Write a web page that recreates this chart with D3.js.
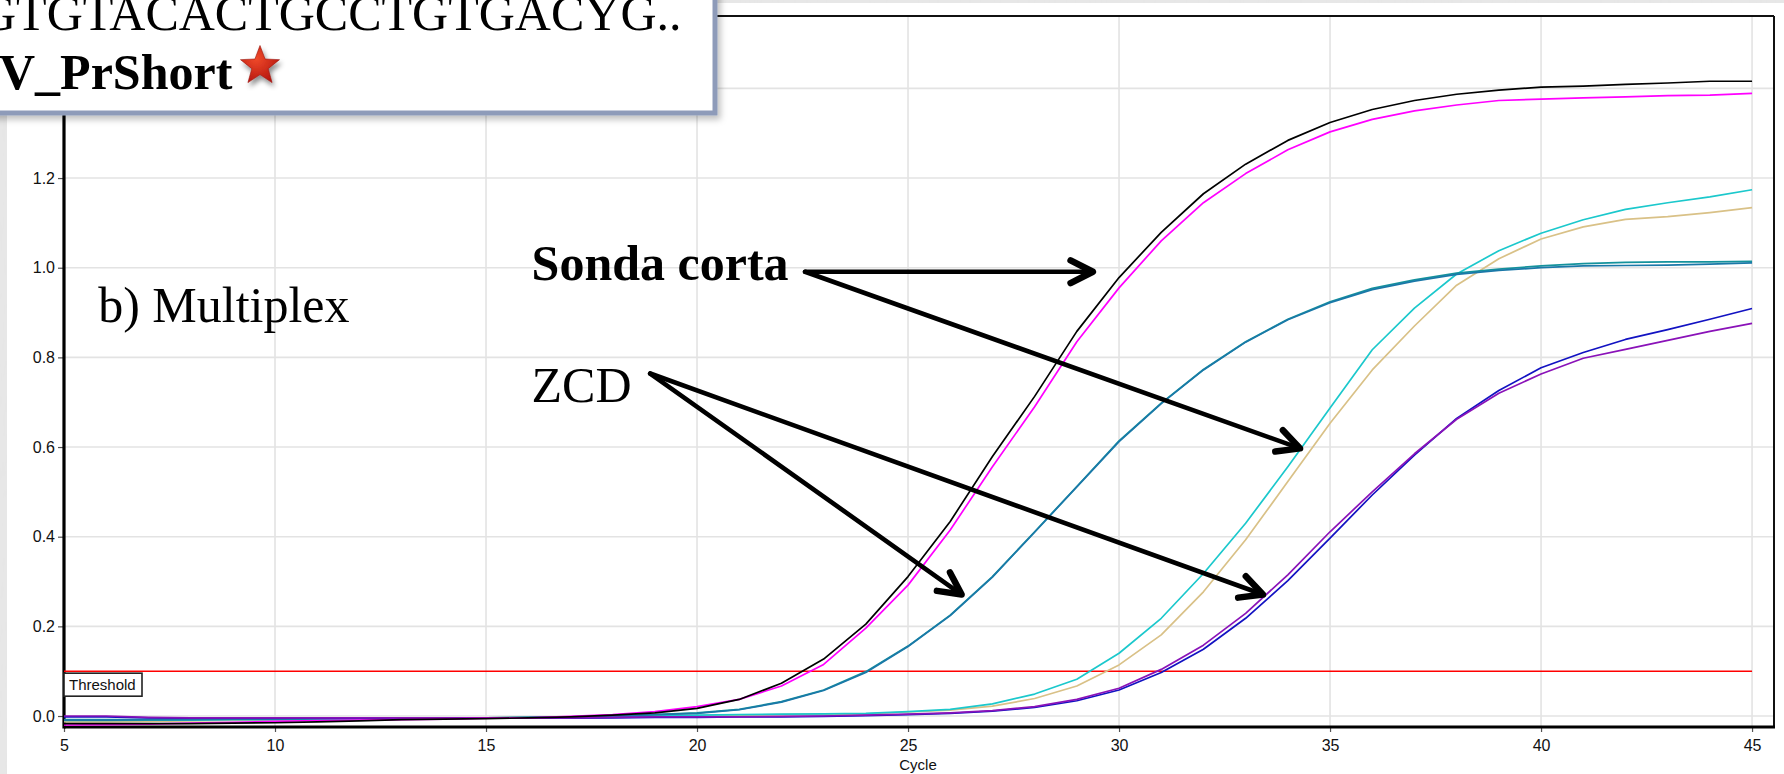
<!DOCTYPE html>
<html>
<head>
<meta charset="utf-8">
<script src="https://cdn.jsdelivr.net/npm/d3@7"></script>
<style>
  html, body { margin: 0; padding: 0; background: #d9d9d9; }
  svg { display: block; }
</style>
</head>
<body>
<svg id="chart" width="1784" height="774"></svg>
<script>
// Amplification cycles (x axis)
const cycles = [5,6,7,8,9,10,11,12,13,14,15,16,17,18,19,20,21,22,23,24,25,
                26,27,28,29,30,31,32,33,34,35,36,37,38,39,40,41,42,43,44,45];

// Fluorescence per cycle, one array per well
const blackWell = [-0.017,-0.017,-0.017,-0.017,-0.016,-0.015,-0.013,-0.011,-0.008,-0.007,-0.006,-0.004,-0.002,0.002,
  0.007,0.017,0.037,0.073,0.127,0.205,0.311,0.434,0.579,0.713,0.858,0.978,1.079,1.165,1.231,1.284,1.324,1.353,1.373,1.387,1.396,1.403,1.405,1.409,1.412,1.416,1.416];
const magentaWell = [-0.020,-0.019,-0.018,-0.016,-0.014,-0.012,-0.010,-0.009,-0.008,-0.007,-0.005,-0.004,-0.001,0.003,
  0.010,0.021,0.037,0.067,0.115,0.196,0.292,0.415,0.556,0.690,0.835,0.955,1.060,1.145,1.210,1.263,1.303,1.331,1.350,1.363,1.373,1.376,1.379,1.381,1.384,1.385,1.389];
const tealWellA = [-0.008,-0.008,-0.008,-0.007,-0.007,-0.006,-0.006,-0.005,-0.005,-0.004,-0.004,-0.003,-0.002,0.000,
  0.003,0.007,0.015,0.032,0.058,0.099,0.156,0.225,0.311,0.411,0.512,0.614,0.698,0.773,0.835,0.885,0.924,0.954,0.973,0.988,0.997,1.004,1.009,1.012,1.013,1.013,1.014];
const tealWellB = [-0.009,-0.009,-0.008,-0.008,-0.007,-0.007,-0.006,-0.006,-0.005,-0.005,-0.004,-0.003,-0.002,0.000,
  0.003,0.006,0.014,0.031,0.057,0.097,0.155,0.224,0.310,0.410,0.511,0.612,0.697,0.772,0.834,0.884,0.922,0.951,0.970,0.985,0.994,1.000,1.004,1.005,1.006,1.008,1.011];
const cyanWell = [-0.010,-0.010,-0.009,-0.009,-0.008,-0.008,-0.007,-0.006,-0.006,-0.005,-0.004,-0.004,-0.003,-0.001,
  0.000,0.002,0.003,0.004,0.005,0.006,0.010,0.015,0.027,0.049,0.082,0.140,0.218,0.318,0.430,0.556,0.687,0.817,0.910,0.986,1.038,1.077,1.107,1.130,1.145,1.158,1.174];
const tanWell = [-0.013,-0.013,-0.012,-0.011,-0.010,-0.009,-0.008,-0.007,-0.006,-0.005,-0.004,-0.003,-0.002,-0.001,
  0.000,0.001,0.002,0.003,0.004,0.005,0.009,0.013,0.022,0.039,0.067,0.114,0.181,0.277,0.393,0.523,0.653,0.772,0.870,0.961,1.020,1.064,1.091,1.108,1.114,1.123,1.134];
const purpleWell = [0.000,0.000,-0.003,-0.004,-0.004,-0.004,-0.004,-0.004,-0.004,-0.004,-0.004,-0.004,-0.004,-0.003,
  -0.002,-0.002,-0.002,-0.001,0.000,0.002,0.004,0.007,0.012,0.021,0.037,0.062,0.104,0.158,0.229,0.315,0.411,0.500,0.585,0.662,0.720,0.763,0.798,0.818,0.838,0.858,0.876];
const blueWell = [-0.002,-0.002,-0.004,-0.005,-0.005,-0.005,-0.005,-0.005,-0.005,-0.005,-0.005,-0.005,-0.005,-0.004,
  -0.003,-0.003,-0.002,-0.002,-0.001,0.001,0.003,0.006,0.011,0.019,0.034,0.058,0.097,0.149,0.218,0.302,0.397,0.493,0.582,0.664,0.726,0.777,0.811,0.840,0.862,0.885,0.909];

// Axis ticks, gridlines and threshold
const xTicks = [5,10,15,20,25,30,35,40,45];
const yTicks = [0.0,0.2,0.4,0.6,0.8,1.0,1.2];
const yGrid = [0.0,0.2,0.4,0.6,0.8,1.0,1.2,1.4];
const threshold = 0.1;

// Line styles, kept apart from the values
const wells = [
  { values: tanWell,     color: "#d9c187" },
  { values: cyanWell,    color: "#1bc8cc" },
  { values: tealWellA,   color: "#14929c" },
  { values: tealWellB,   color: "#1a78a8" },
  { values: blueWell,    color: "#1212c2" },
  { values: purpleWell,  color: "#8a12b8" },
  { values: magentaWell, color: "#ff00ff" },
  { values: blackWell,   color: "#000000" }
];

const svg = d3.select("#chart");
const W = 1784, H = 774;

// ---- page background: textured strip with a white sheet on top
const defs = svg.append("defs");
const tex = defs.append("filter").attr("id", "paper").attr("x", 0).attr("y", 0).attr("width", 1).attr("height", 1);
tex.append("feTurbulence").attr("type", "fractalNoise").attr("baseFrequency", "0.35 0.05").attr("numOctaves", 2).attr("result", "n");
tex.append("feColorMatrix").attr("in", "n").attr("type", "matrix")
  .attr("values", "0 0 0 0 0.80  0 0 0 0 0.80  0 0 0 0 0.80  0 0 0 0.9 0").attr("result", "c");
tex.append("feComposite").attr("in", "c").attr("in2", "SourceGraphic").attr("operator", "over");
svg.append("rect").attr("width", W).attr("height", H).attr("fill", "#e6e6e6").attr("filter", "url(#paper)");
svg.append("rect").attr("x", 7).attr("y", 3).attr("width", W - 7).attr("height", H - 3).attr("fill", "#ffffff");

// ---- scales
const plot = { left: 64, right: 1774, top: 16, bottom: 727 };
const x = d3.scaleLinear().domain([5, 45.52]).range([plot.left, plot.right]);
const y = d3.scaleLinear().domain([-0.0245, 1.5615]).range([plot.bottom, plot.top]);

// ---- gridlines
const grid = svg.append("g");
grid.selectAll("line.gx").data(xTicks).join("line")
  .attr("x1", d => x(d)).attr("x2", d => x(d))
  .attr("y1", plot.top).attr("y2", plot.bottom)
  .attr("stroke", "#e3e3e3").attr("stroke-width", 1.6);
grid.selectAll("line.gy").data(yGrid).join("line")
  .attr("x1", plot.left).attr("x2", plot.right)
  .attr("y1", d => y(d)).attr("y2", d => y(d))
  .attr("stroke", "#e3e3e3").attr("stroke-width", 1.6);

// ---- axes
const xAxis = d3.axisBottom(x).tickValues(xTicks).tickFormat(d3.format("d")).tickSize(5).tickPadding(8);
const yAxis = d3.axisLeft(y).tickValues(yTicks).tickFormat(d3.format(".1f")).tickSize(6).tickPadding(3);
const gx = svg.append("g").attr("transform", `translate(0,${plot.bottom})`).call(xAxis);
const gy = svg.append("g").attr("transform", `translate(${plot.left},0)`).call(yAxis);
[gx, gy].forEach(g => {
  g.select(".domain").remove();
  g.selectAll(".tick line").attr("stroke", "#555").attr("stroke-width", 1.2);
  g.selectAll(".tick text").attr("fill", "#111").attr("font-family", "Liberation Sans, Arial, sans-serif").attr("font-size", 16);
});

// frame: heavy left/bottom, thin top/right
svg.append("line").attr("x1", plot.left).attr("x2", plot.right).attr("y1", plot.top).attr("y2", plot.top)
  .attr("stroke", "#111").attr("stroke-width", 2);
svg.append("line").attr("x1", plot.right).attr("x2", plot.right).attr("y1", plot.top).attr("y2", plot.bottom + 1)
  .attr("stroke", "#111").attr("stroke-width", 2);
svg.append("line").attr("x1", plot.left).attr("x2", plot.right + 1).attr("y1", plot.bottom).attr("y2", plot.bottom)
  .attr("stroke", "#000").attr("stroke-width", 3.2);
svg.append("line").attr("x1", plot.left).attr("x2", plot.left).attr("y1", plot.top).attr("y2", plot.bottom + 1.5)
  .attr("stroke", "#000").attr("stroke-width", 3.2);

svg.append("text").attr("x", x(25) + 10).attr("y", 770).attr("text-anchor", "middle")
  .attr("font-family", "Liberation Sans, Arial, sans-serif").attr("font-size", 15).attr("fill", "#111")
  .text("Cycle");

// ---- threshold
svg.append("line").attr("x1", x(5)).attr("x2", x(45))
  .attr("y1", y(threshold)).attr("y2", y(threshold))
  .attr("stroke", "#ff0000").attr("stroke-width", 1.6);
const thrY = y(threshold);
svg.append("rect").attr("x", plot.left).attr("y", thrY + 2).attr("width", 78).attr("height", 23)
  .attr("fill", "#fff").attr("stroke", "#222").attr("stroke-width", 1.6);
svg.append("text").attr("x", plot.left + 5).attr("y", thrY + 19)
  .attr("font-family", "Liberation Sans, Arial, sans-serif").attr("font-size", 15).attr("fill", "#111")
  .text("Threshold");

// ---- amplification curves
const line = d3.line().x((d, i) => x(cycles[i])).y(d => y(d)).curve(d3.curveLinear);
svg.append("g").selectAll("path").data(wells).join("path")
  .attr("d", d => line(d.values))
  .attr("fill", "none")
  .attr("stroke", d => d.color)
  .attr("stroke-width", 1.7)
  .attr("stroke-linejoin", "round");

// ---- annotations (positions in cycle / fluorescence units)
const serif = "Liberation Serif, Times New Roman, serif";
svg.append("text").attr("x", x(5.81)).attr("y", y(0.880))
  .attr("font-family", serif).attr("font-size", 50).attr("fill", "#000").text("b) Multiplex");
svg.append("text").attr("x", x(16.08)).attr("y", y(0.973))
  .attr("font-family", serif).attr("font-size", 50).attr("font-weight", "bold").attr("fill", "#000").text("Sonda corta");
svg.append("text").attr("x", x(16.08)).attr("y", y(0.701))
  .attr("font-family", serif).attr("font-size", 50).attr("fill", "#000").text("ZCD");

const arrows = [
  { from: [22.56, 0.991], to: [29.38, 0.991] },
  { from: [22.56, 0.991], to: [34.29, 0.597] },
  { from: [18.89, 0.764], to: [26.27, 0.271] },
  { from: [18.89, 0.764], to: [33.41, 0.271] }
];
const ag = svg.append("g").attr("stroke", "#000").attr("fill", "none").attr("stroke-linecap", "round").attr("stroke-linejoin", "round");
arrows.forEach(a => {
  const x0 = x(a.from[0]), y0 = y(a.from[1]), x1 = x(a.to[0]), y1 = y(a.to[1]);
  ag.append("line").attr("x1", x0).attr("y1", y0).attr("x2", x1).attr("y2", y1).attr("stroke-width", 4.6);
  const ang = Math.atan2(y1 - y0, x1 - x0), L = 25, spread = 0.47;
  const p1 = [x1 - L * Math.cos(ang - spread), y1 - L * Math.sin(ang - spread)];
  const p2 = [x1 - L * Math.cos(ang + spread), y1 - L * Math.sin(ang + spread)];
  ag.append("path").attr("d", `M${p1[0]},${p1[1]}L${x1},${y1}L${p2[0]},${p2[1]}`).attr("stroke-width", 6.5);
});

// ---- probe note box in the upper left corner
const sh = defs.append("filter").attr("id", "boxShadow").attr("x", "-10%").attr("y", "-10%").attr("width", "130%").attr("height", "140%");
sh.append("feDropShadow").attr("dx", 3).attr("dy", 4).attr("stdDeviation", 3).attr("flood-color", "#000").attr("flood-opacity", 0.25);
svg.append("rect").attr("x", -20).attr("y", -20).attr("width", 735).attr("height", 133)
  .attr("fill", "#fff").attr("stroke", "#8e9bb9").attr("stroke-width", 5).attr("filter", "url(#boxShadow)");
svg.append("text").attr("x", -20).attr("y", 30)
  .attr("font-family", serif).attr("font-size", 50).attr("fill", "#000").text("GTGTACACTGCCTGTGACYG..");
svg.append("text").attr("x", -1).attr("y", 89)
  .attr("font-family", serif).attr("font-size", 50).attr("font-weight", "bold").attr("fill", "#000").text("V_PrShort");

// red star marker
const grad = defs.append("radialGradient").attr("id", "starFill").attr("cx", "40%").attr("cy", "35%").attr("r", "70%");
grad.append("stop").attr("offset", "0%").attr("stop-color", "#f04a2a");
grad.append("stop").attr("offset", "100%").attr("stop-color", "#b3140e");
const starSh = defs.append("filter").attr("id", "starShadow").attr("x", "-50%").attr("y", "-50%").attr("width", "200%").attr("height", "200%");
starSh.append("feDropShadow").attr("dx", 2).attr("dy", 4).attr("stdDeviation", 2.5).attr("flood-color", "#000").attr("flood-opacity", 0.45);
const R = 20.5, r = 8.6, cx = 260, cy = 66;
const starPts = d3.range(10).map(i => {
  const rad = i % 2 === 0 ? R : r;
  const t = -Math.PI / 2 + i * Math.PI / 5;
  return [cx + rad * Math.cos(t), cy + rad * Math.sin(t)];
});
svg.append("polygon").attr("points", starPts.map(p => p.join(",")).join(" "))
  .attr("fill", "url(#starFill)").attr("stroke", "#9a120c").attr("stroke-width", 0.6)
  .attr("filter", "url(#starShadow)");
</script>
</body>
</html>
